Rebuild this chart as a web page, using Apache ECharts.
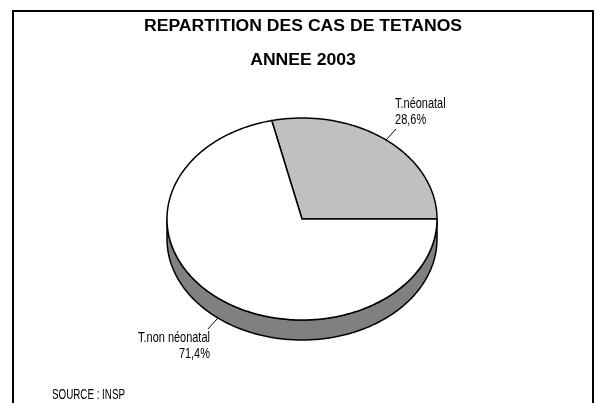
<!DOCTYPE html>
<html><head><meta charset="utf-8">
<script src="https://cdn.jsdelivr.net/npm/echarts@6/dist/echarts.min.js"></script>
<style>html,body{margin:0;padding:0;background:#fff}#c{width:595px;height:403px}</style>
</head><body><div id="c"></div>
<script>
const categories = ['T.néonatal', 'T.non néonatal'];
const values = [28.6, 71.4];
const valueLabels = ['28,6%', '71,4%'];
const titleLines = ['REPARTITION DES CAS DE TETANOS', 'ANNEE 2003'];
const sourceText = 'SOURCE : INSP';

const cx = 302, cy = 219, rx = 135, ry = 101, depth = 20;
const topColors = ['#c0c0c0', '#ffffff'];
const sideColor = '#808080';
const narrow = "'Liberation Sans',Arial,sans-serif";
const boldFont = "'Liberation Sans',Arial,sans-serif";
const narrowScale = 0.73;

const total = values.reduce((a, b) => a + b, 0);
const data = [];
let acc = 0;
values.forEach((v, i) => { data.push({ name: categories[i], value: [v, acc] }); acc += v; });

function ept(a, dy) { return [cx + rx * Math.cos(a), cy - ry * Math.sin(a) + (dy || 0)]; }
function arcPts(a0, a1, dy) {
  const n = Math.max(2, Math.ceil(Math.abs(a1 - a0) / (Math.PI / 180)));
  const pts = [];
  for (let i = 0; i <= n; i++) pts.push(ept(a0 + (a1 - a0) * i / n, dy));
  return pts;
}

function renderItem(params, api) {
  const i = params.dataIndex;
  const v = api.value(0), start = api.value(1);
  const a0 = start / total * Math.PI * 2;
  const a1 = (start + v) / total * Math.PI * 2;
  const children = [];
  const s = Math.max(a0, Math.PI), e = Math.min(a1, Math.PI * 2);
  if (s < e) {
    children.push({
      type: 'polygon',
      shape: { points: arcPts(s, e, 0).concat(arcPts(e, s, depth)) },
      style: { fill: sideColor, stroke: '#000', lineWidth: 1.5, lineJoin: 'round' }
    });
  }
  children.push({
    type: 'polygon',
    shape: { points: [[cx, cy]].concat(arcPts(a0, a1, 0)) },
    style: { fill: topColors[i], stroke: '#000', lineWidth: 1.5, lineJoin: 'round' }
  });
  const mid = (a0 + a1) / 2;
  const lower = Math.sin(mid) < 0;
  const anchor = ept(mid, lower ? depth : 0);
  const sx = Math.cos(mid) >= 0 ? 1 : -1;
  const sy = lower ? 1 : -1;
  const end = [anchor[0] + sx * 10, anchor[1] + sy * 11];
  children.push({
    type: 'line',
    shape: { x1: anchor[0], y1: anchor[1], x2: end[0], y2: end[1] },
    style: { stroke: '#000', lineWidth: 1 }
  });
  children.push({
    type: 'text',
    x: sx > 0 ? end[0] - 1 : end[0] + 2,
    y: lower ? end[1] + 1 : end[1] - 1,
    scaleX: narrowScale,
    style: {
      text: categories[i] + '\n' + valueLabels[i],
      x: 0, y: 0,
      align: sx > 0 ? 'left' : 'right',
      verticalAlign: lower ? 'top' : 'bottom',
      fontSize: 15, fontFamily: narrow, lineHeight: 16, fill: '#000'
    }
  });
  return { type: 'group', children };
}

const chart = echarts.init(document.getElementById('c'), null, { renderer: 'canvas' });
chart.setOption({
  animation: false,
  backgroundColor: '#fff',
  graphic: [
    { type: 'rect', shape: { x: 13, y: 11, width: 580, height: 430 }, style: { fill: 'none', stroke: '#000', lineWidth: 2 } },
    { type: 'text', x: 303, y: 27, scaleX: 1.1, style: { text: titleLines[0], x: 0, y: 0, align: 'center', verticalAlign: 'middle', fontSize: 16, fontWeight: 'bold', fontFamily: boldFont, fill: '#000' } },
    { type: 'text', x: 303, y: 61, scaleX: 1.1, style: { text: titleLines[1], x: 0, y: 0, align: 'center', verticalAlign: 'middle', fontSize: 16, fontWeight: 'bold', fontFamily: boldFont, fill: '#000' } },
    { type: 'text', x: 52, y: 395, scaleX: 0.7, style: { text: sourceText, x: 0, y: 0, align: 'left', verticalAlign: 'middle', fontSize: 14, fontFamily: narrow, fill: '#000' } }
  ],
  series: [{
    type: 'custom',
    coordinateSystem: 'none',
    renderItem: renderItem,
    data: data,
    silent: true
  }]
});
</script></body></html>
